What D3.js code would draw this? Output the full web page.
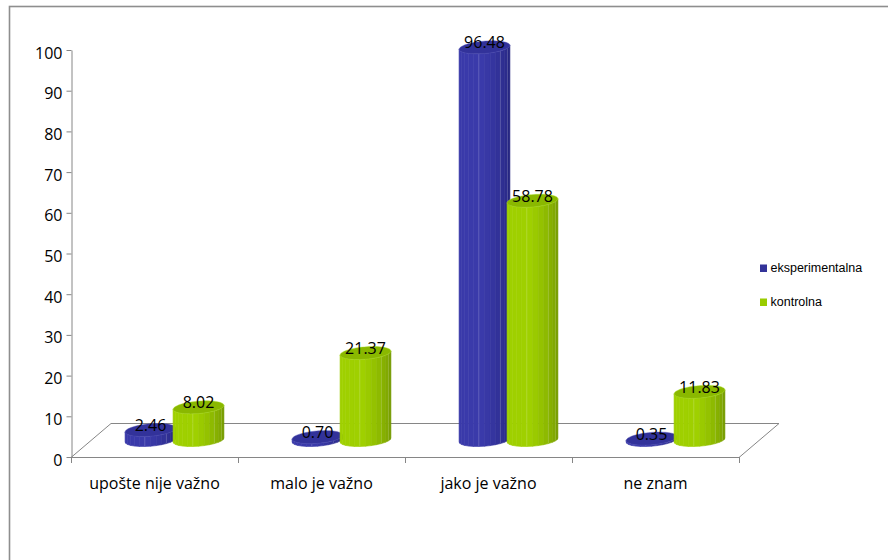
<!DOCTYPE html>
<html>
<head>
<meta charset="utf-8">
<script src="https://cdn.jsdelivr.net/npm/d3@7"></script>
<style>
  html, body { margin: 0; padding: 0; background: #fff; }
  svg { display: block; }
  .tick text { font-family: "Open Sans", sans-serif; }
</style>
</head>
<body>
<svg id="chart" width="888" height="560"></svg>
<script>
// Survey answers, in percent, for the two groups
const categories = ["upošte nije važno", "malo je važno", "jako je važno", "ne znam"];
const seriesNames = ["eksperimentalna", "kontrolna"];
const eksperimentalna = [2.46, 0.70, 96.48, 0.35];
const kontrolna = [8.02, 21.37, 58.78, 11.83];
const yTicks = [0, 10, 20, 30, 40, 50, 60, 70, 80, 90, 100];

const seriesValues = { eksperimentalna, kontrolna };
const palette = {
  eksperimentalna: { light: "#3a3aaa", dark: "#23237a", cap: "#32329a", rim: "#5050b8", key: "#333399" },
  kontrolna:       { light: "#9fd000", dark: "#6f9200", cap: "#8ab800", rim: "#ade028", key: "#99cc00" }
};

const svg = d3.select("#chart");
const FONT = "'Open Sans', sans-serif";
const AXIS = "#868686";

// outer chart frame
svg.append("rect")
  .attr("x", 9.5).attr("y", 6.5).attr("width", 900).attr("height", 600)
  .attr("fill", "none").attr("stroke", "#8e8e8e").attr("stroke-width", 1.6);

// scales
const x = d3.scaleBand().domain(categories).range([71, 739]).padding(0);
const y = d3.scaleLinear().domain([0, 100]).range([457, 50]);
const xs = d3.scaleBand().domain(seriesNames).range([-48, 48]).padding(0);

// oblique depth of the floor; bars stand in its middle
const DEPTH = { dx: 40, dy: -34 };
const MID = { dx: DEPTH.dx / 2, dy: DEPTH.dy / 2 };

// floor outline
const x0 = x.range()[0], x1 = x.range()[1], yb = y(0);
const floor = svg.append("g").attr("fill", "none").attr("stroke", AXIS).attr("stroke-width", 1);
floor.append("path").attr("d", `M${x0},${yb + 0.5}L${x0 + DEPTH.dx},${yb + DEPTH.dy + 0.5}L${x1 + DEPTH.dx},${yb + DEPTH.dy + 0.5}L${x1},${yb + 0.5}`);

// y axis
const yAxis = svg.append("g")
  .attr("transform", "translate(71.5,0)")
  .call(d3.axisLeft(y).tickValues(yTicks).tickSize(5).tickSizeOuter(0).tickPadding(4));
yAxis.selectAll("path, line").attr("stroke", AXIS);
yAxis.selectAll("text")
  .attr("font-family", FONT).attr("font-size", 16).attr("fill", "#000").attr("dy", "0.5em");

// x axis line with tick marks at the category boundaries
const xa = svg.append("g").attr("stroke", AXIS).attr("stroke-width", 1);
xa.append("line").attr("x1", x0).attr("x2", x1).attr("y1", yb + 0.5).attr("y2", yb + 0.5);
const bounds = categories.map(c => x(c)).concat([x1]);
xa.selectAll("line.tk").data(bounds).join("line").attr("class", "tk")
  .attr("x1", d => Math.round(d) + 0.5).attr("x2", d => Math.round(d) + 0.5)
  .attr("y1", yb).attr("y2", yb + 6);

svg.append("g").selectAll("text").data(categories).join("text")
  .attr("x", c => x(c) + x.bandwidth() / 2)
  .attr("y", 489)
  .attr("text-anchor", "middle")
  .attr("font-family", FONT).attr("font-size", 16).attr("fill", "#000")
  .text(c => c);

// cylinders
const R = 24.2;
const SX = 0.32, SY = 0.27;           // oblique squash of the circular section
const PHI0 = Math.atan(SX);           // silhouette angle
const N = 14;                         // facets on the visible half
const LIGHT = [-0.45, -0.9];

function pt(cx, cy, phi) {
  return [cx + R * Math.cos(phi) + SX * R * Math.sin(phi), cy - SY * R * Math.sin(phi)];
}

function cylinder(g, cx, topY, baseY, col) {
  const shade = d3.interpolateRgb(col.dark, col.light);
  for (let k = 0; k < N; k++) {
    const a = PHI0 + Math.PI + Math.PI * k / N;
    const b = PHI0 + Math.PI + Math.PI * (k + 1) / N;
    const m = (a + b) / 2;
    const dot = LIGHT[0] * Math.cos(m) + LIGHT[1] * Math.sin(m);
    const t = Math.max(0, Math.min(1, (dot + 0.8) / 1.6));
    const p1 = pt(cx, topY, a), p2 = pt(cx, topY, b), p3 = pt(cx, baseY, b), p4 = pt(cx, baseY, a);
    const c = shade(t);
    g.append("path")
      .attr("d", `M${p1}L${p2}L${p3}L${p4}Z`)
      .attr("fill", c).attr("stroke", c).attr("stroke-width", 0.6);
    if (k === 6 || k === 10 || k === 12) {
      g.append("line")
        .attr("x1", p1[0]).attr("y1", p1[1]).attr("x2", p4[0]).attr("y2", p4[1])
        .attr("stroke", "#fff").attr("stroke-opacity", 0.2).attr("stroke-width", 0.8);
    }
  }
  const cap = d3.range(0, 73).map(i => pt(cx, topY, i / 72 * 2 * Math.PI));
  g.append("path").attr("d", "M" + cap.join("L") + "Z")
    .attr("fill", col.cap).attr("stroke", col.rim).attr("stroke-width", 0.7).attr("stroke-opacity", 0.6);
}

const bars = svg.append("g");
const labels = [];
categories.forEach((c, i) => {
  const groupX = x(c) + x.bandwidth() / 2 + MID.dx;
  seriesNames.forEach(s => {
    const v = seriesValues[s][i];
    const cx = groupX + xs(s) + xs.bandwidth() / 2;
    const topY = y(v) + MID.dy;
    const baseY = y(0) + MID.dy;
    cylinder(bars.append("g"), cx, topY, baseY, palette[s]);
    labels.push({ x: cx, y: topY + 1, v });
  });
});

// value labels
svg.append("g").selectAll("text").data(labels).join("text")
  .attr("x", d => d.x).attr("y", d => d.y)
  .attr("text-anchor", "middle")
  .attr("font-family", FONT).attr("font-size", 16).attr("fill", "#000")
  .text(d => d.v.toFixed(2));

// legend
const legend = svg.append("g").attr("transform", "translate(760,264)");
seriesNames.forEach((s, i) => {
  const row = legend.append("g").attr("transform", `translate(0,${i * 34})`);
  row.append("rect").attr("x", 0).attr("y", 0.5).attr("width", 7).attr("height", 7.5)
    .attr("fill", palette[s].key);
  row.append("text").attr("x", 10.5).attr("y", 7.5)
    .attr("font-family", "'Liberation Sans', Arial, sans-serif").attr("font-size", 12.5)
    .attr("fill", "#000").text(s);
});
</script>
</body>
</html>
